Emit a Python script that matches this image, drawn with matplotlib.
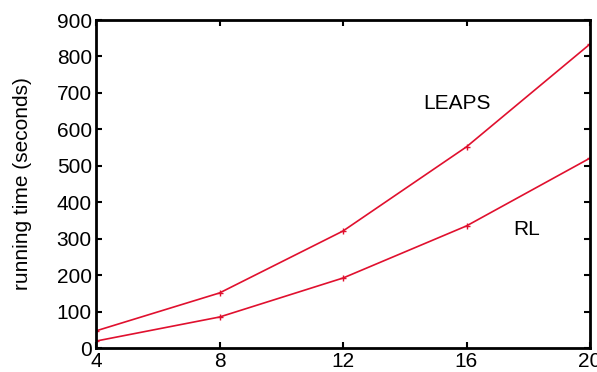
import matplotlib.pyplot as plt

plt.rcParams['font.family'] = ['Liberation Sans', 'DejaVu Sans']

sizes = [4, 8, 12, 16, 20]
leaps = [47, 151, 321, 552, 834]
rl = [19, 85, 192, 335, 521]

red = '#e0102e'

fig = plt.figure(figsize=(5.97, 3.72), dpi=100)
ax = fig.add_axes([96 / 597, 24 / 372, 494 / 597, 328 / 372])

ax.plot(sizes, leaps, color=red, lw=1.2, marker='+', ms=4, mew=1)
ax.plot(sizes, rl, color=red, lw=1.2, marker='+', ms=4, mew=1)

ax.text(15.7, 672, 'LEAPS', fontsize=15, ha='center', va='center')
ax.text(17.95, 326, 'RL', fontsize=15, ha='center', va='center')

ax.set_xlim(4, 20)
ax.set_ylim(0, 900)
ax.set_xticks(sizes)
ax.set_yticks(range(0, 901, 100))
ax.set_ylabel('running time (seconds)', fontsize=15, labelpad=18)
ax.tick_params(direction='in', top=True, right=True, length=4, width=1.5,
               labelsize=15, pad=3)
for s in ax.spines.values():
    s.set_linewidth(2)

fig.savefig('out.png', dpi=100)
